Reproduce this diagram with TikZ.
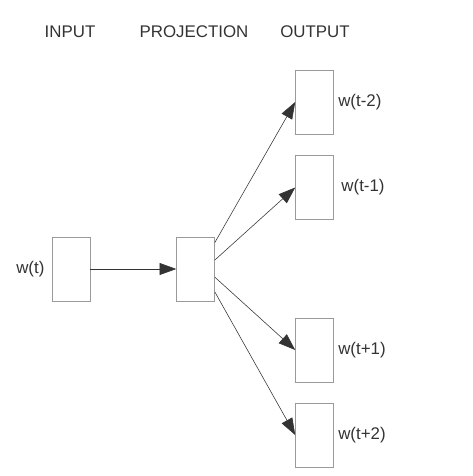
\documentclass[tikz,border=0pt]{standalone}
\usepackage{fontspec}
\setmainfont{Liberation Sans}
\usepackage{xcolor}
\usetikzlibrary{positioning,arrows.meta}
\definecolor{boxline}{HTML}{9A9A9A}
\definecolor{ink}{HTML}{333333}

\begin{document}
\begin{tikzpicture}[x=0.025cm, y=-0.025cm, node distance=2.15cm,
  every node/.style={font=\fontsize{12}{14}\selectfont, text=ink},
  wordbox/.style={rectangle, draw=boxline, thin, minimum width=0.95cm, minimum height=1.6cm, inner sep=0pt},
  wordlbl/.style={inner sep=1pt},
  link/.style={-{Triangle[length=0.42cm, width=0.3cm]}, draw=ink, thin}]
\useasboundingbox (0,0) rectangle (473,476);

% headers
\node (hin)   at (70,32)  {INPUT};
\node (hproj) at (194,32) {PROJECTION};
\node (hout)  at (315,32) {OUTPUT};

% input and projection
\node (inp) [wordbox] at (71,269) {};
\node (proj) [wordbox, right=of inp] {};
\node (win) [wordlbl, left=0.14cm of inp] {w(t)};

% output words
\node (om2) [wordbox] at (314.5,102) {};
\node (om1) [wordbox] at (314.5,187.5) {};
\node (op1) [wordbox] at (314.5,350) {};
\node (op2) [wordbox] at (314.5,435) {};
\node (wom2) [wordlbl, right=0.07cm of om2] {w(t-2)};
\node (wom1) [wordlbl, right=0.15cm of om1] {w(t-1)};
\node (wop1) [wordlbl, right=0.07cm of op1] {w(t+1)};
\node (wop2) [wordlbl, right=0.07cm of op2] {w(t+2)};

\draw[link] (inp.east) -- (proj.west);
\draw[link] (proj.54) -- (om2.west);
\draw[link] (proj.25) -- (om1.west);
\draw[link] (proj.-23) -- (op1.west);
\draw[link] (proj.-50) -- (op2.west);
\end{tikzpicture}
\end{document}
